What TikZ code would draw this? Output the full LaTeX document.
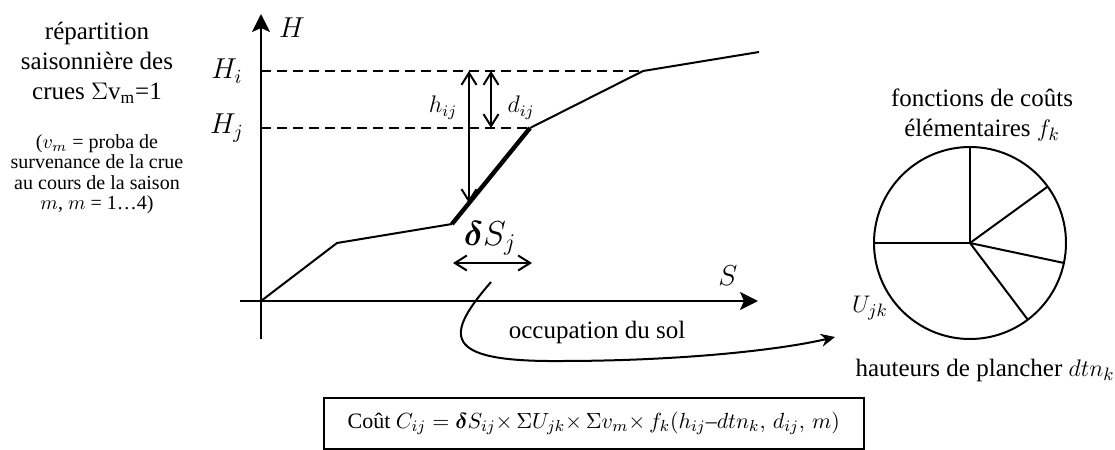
\documentclass[tikz,border=0pt]{standalone}
\usepackage{fontspec}
\setmainfont{Liberation Serif}
\usepackage{amsmath}
\usetikzlibrary{arrows.meta, positioning, calc}

\begin{document}
\begin{tikzpicture}[
    x=0.5pt, y=-0.5pt,
    axe/.style={line width=1pt, -{Stealth[length=9pt, width=9pt, inset=2pt]}},
    trait/.style={line width=1pt},
    epais/.style={line width=2.2pt},
    pointille/.style={line width=0.9pt, dash pattern=on 5pt off 3pt},
    cote/.style={line width=1pt, {Straight Barb[length=6pt, width=7.5pt]}-{Straight Barb[length=6pt, width=7.5pt]}},
    fleche/.style={line width=1pt, -{Stealth[length=7pt, width=6.5pt]}},
    txt/.style={font=\fontsize{12.5}{15}\selectfont, align=center, inner sep=0pt},
    petit/.style={font=\fontsize{10}{10.2}\selectfont, align=center, inner sep=0pt},
    lbl/.style={font=\fontsize{14}{16}\selectfont, inner sep=0pt}
  ]
  \useasboundingbox (0,0) rectangle (1115,450);

  % Axes
  \coordinate (O) at (261,301);
  \coordinate (Hbas) at (261,339);
  \coordinate (Hhaut) at (261,14);
  \coordinate (Sgauche) at (240,301);
  \coordinate (Sdroite) at (758,301);
  \draw[axe] (Hbas) -- (Hhaut);
  \draw[axe] (Sgauche) -- (Sdroite);
  \node[lbl] (H) at (292,28) {$H$};
  \node[lbl] (S) at (728,276) {$S$};

  % Courbe H(S)
  \coordinate (p1) at (337,243);
  \coordinate (p2) at (452,224);
  \coordinate (p3) at (530,128);
  \coordinate (p4) at (643,71);
  \coordinate (p5) at (759,52);
  \draw[trait] (O) -- (p1) -- (p2);
  \draw[epais] (p2) -- (p3);
  \draw[trait] (p3) -- (p4) -- (p5);

  % Niveaux Hi, Hj
  \coordinate (yi) at (261,71);
  \coordinate (yj) at (261,128);
  \draw[pointille] (yi) -- (p4);
  \draw[pointille] (yj) -- (p3);
  \node[lbl] (Hi) at (227,71) {$H_i$};
  \node[lbl] (Hj) at (227,128) {$H_j$};

  % Cotes h et d
  \coordinate (hhaut) at (469,71);
  \coordinate (hbas) at (469,203);
  \coordinate (dhaut) at (491,71);
  \coordinate (dbas) at (491,128);
  \draw[cote] (hhaut) -- (hbas);
  \draw[cote] (dhaut) -- (dbas);
  \node[lbl, font=\fontsize{12}{14}\selectfont] (hij) at (443,108) {$h_{ij}$};
  \node[lbl, font=\fontsize{12}{14}\selectfont] (dij) at (521,108) {$d_{ij}$};

  % delta S
  \node[lbl, font=\fontsize{17}{19}\selectfont] (dS) at (490,238) {$\boldsymbol{\delta}S_{j}$};
  \coordinate (dsg) at (453,263);
  \coordinate (dsd) at (532,263);
  \draw[cote] (dsg) -- (dsd);

  % Occupation du sol
  \coordinate (occ0) at (491,282);
  \coordinate (occ1) at (835,337);
  \draw[fleche] (occ0) .. controls (445,335) and (440,362) .. (560,361)
    .. controls (680,361) and (780,350) .. (occ1);
  \node[txt] (occ) at (597,332) {occupation du sol};

  % Texte de gauche
  \node[txt] (repart) at (97,63) {répartition\\saisonnière des\\crues $\Sigma$v$_\mathrm{m}$=1};
  \node[petit] (note) at (97,174) {($v_m$ = proba de\\survenance de la crue\\au cours de la saison\\$m$, $m$ = 1…4)};

  % Camembert
  \node[circle, draw, line width=1pt, minimum size=96pt, outer sep=0pt, inner sep=0pt] (pie) at (970,243) {};
  \foreach \a in {90,36,-12,-53.5,180} {
    \draw[trait] (pie.center) -- (pie.\a);
  }
  \node[txt] (fk) at (982,115) {fonctions de coûts\\élémentaires $f_k$};
  \node[txt] (Ujk) at (870,308) {$U_{jk}$};
  \node[txt] (dtn) at (985,370) {hauteurs de plancher $dtn_k$};

  % Formule
  \node[draw, line width=1pt, anchor=north east, minimum height=25.5pt, inner xsep=12pt,
        font=\fontsize{11}{13}\selectfont] (cout) at (865,397)
    {Coût $C_{ij} = \boldsymbol{\delta}S_{ij}{\times}\,\Sigma U_{jk}{\times}\,\Sigma v_m{\times}\,f_k(h_{ij}\text{–}dtn_k,\, d_{ij},\, m)$};
\end{tikzpicture}
\end{document}
